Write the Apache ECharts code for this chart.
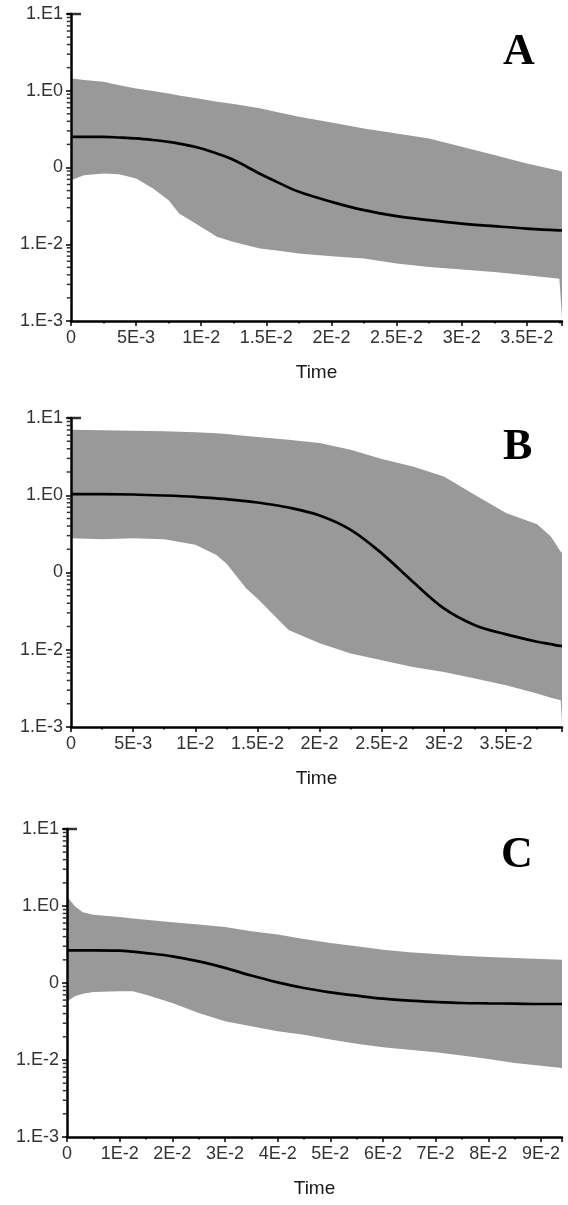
<!DOCTYPE html>
<html>
<head>
<meta charset="utf-8">
<script src="https://cdn.jsdelivr.net/npm/echarts@6/dist/echarts.min.js"></script>
<style>
html,body{margin:0;padding:0;background:#fff;}
#chart{width:568px;height:1205px;}
</style>
</head>
<body>
<div id="chart"></div>
<script>
// ---------- data ----------
const yTickLabels = ['1.E-3', '1.E-2', '0', '1.E0', '1.E1'];

const panelLetters = ['A', 'B', 'C'];
const xAxisTitle = 'Time';

// Panel A
const xTickLabelsA = ['0', '5E-3', '1E-2', '1.5E-2', '2E-2', '2.5E-2', '3E-2', '3.5E-2'];
const timeA   = [0, 0.001, 0.0025, 0.0037, 0.005, 0.0063, 0.0075, 0.0083, 0.01, 0.0112, 0.0125, 0.0145, 0.0158, 0.0175, 0.02, 0.0225, 0.025, 0.0275, 0.03, 0.0325, 0.035, 0.0375, 0.0377];
const upperA  = [1.45, 1.38, 1.31, 1.18, 1.07, 0.99, 0.923, 0.87, 0.778, 0.72, 0.67, 0.59, 0.53, 0.458, 0.386, 0.323, 0.278, 0.239, 0.186, 0.145, 0.113, 0.0905, 0.088];
const medianA = [0.251, 0.251, 0.251, 0.246, 0.239, 0.228, 0.216, 0.205, 0.177, 0.152, 0.125, 0.083, 0.065, 0.0482, 0.0357, 0.0278, 0.0232, 0.0206, 0.0186, 0.0172, 0.016, 0.0152, 0.0152];
const lowerA  = [0.0684, 0.0794, 0.0835, 0.0818, 0.0719, 0.0532, 0.0375, 0.0251, 0.0168, 0.0125, 0.0107, 0.00878, 0.0083, 0.00755, 0.00697, 0.0065, 0.0056, 0.00506, 0.00468, 0.00436, 0.00394, 0.00356, 0.0011];

// Panel B
const xTickLabelsB = ['0', '5E-3', '1E-2', '1.5E-2', '2E-2', '2.5E-2', '3E-2', '3.5E-2'];
const timeB   = [0, 0.0025, 0.005, 0.0075, 0.01, 0.0117, 0.0125, 0.0141, 0.015, 0.0175, 0.02, 0.0225, 0.025, 0.0275, 0.03, 0.0325, 0.035, 0.0375, 0.0386, 0.0394, 0.0395];
const upperB  = [7.06, 6.92, 6.85, 6.72, 6.52, 6.35, 6.2, 5.85, 5.67, 5.24, 4.74, 3.88, 2.94, 2.36, 1.75, 1.01, 0.59, 0.422, 0.292, 0.186, 0.18];
const medianB = [1.033, 1.033, 1.023, 0.993, 0.953, 0.91, 0.889, 0.84, 0.805, 0.693, 0.546, 0.356, 0.177, 0.0761, 0.0343, 0.0208, 0.0158, 0.0127, 0.0118, 0.0112, 0.0112];
const lowerB  = [0.277, 0.269, 0.277, 0.269, 0.228, 0.169, 0.131, 0.0623, 0.0462, 0.018, 0.0121, 0.00894, 0.00733, 0.006, 0.00517, 0.00424, 0.00348, 0.00271, 0.0024, 0.00222, 0.0011];

// Panel C
const xTickLabelsC = ['0', '1E-2', '2E-2', '3E-2', '4E-2', '5E-2', '6E-2', '7E-2', '8E-2', '9E-2'];
const timeC   = [0, 0.0005, 0.0015, 0.003, 0.005, 0.01, 0.0125, 0.015, 0.02, 0.025, 0.03, 0.035, 0.04, 0.045, 0.05, 0.055, 0.06, 0.065, 0.07, 0.075, 0.08, 0.085, 0.09, 0.094];
const upperC  = [1.4, 1.21, 0.991, 0.828, 0.771, 0.72, 0.69, 0.665, 0.614, 0.573, 0.534, 0.469, 0.425, 0.373, 0.33, 0.299, 0.271, 0.25, 0.238, 0.226, 0.218, 0.211, 0.205, 0.201];
const medianC = [0.265, 0.265, 0.265, 0.265, 0.265, 0.263, 0.255, 0.245, 0.222, 0.191, 0.157, 0.125, 0.102, 0.0861, 0.0757, 0.0685, 0.0626, 0.059, 0.0567, 0.055, 0.0544, 0.0539, 0.0534, 0.0534];
const lowerC  = [0.0561, 0.0608, 0.0672, 0.0727, 0.0764, 0.078, 0.078, 0.0705, 0.055, 0.0407, 0.0318, 0.0274, 0.0236, 0.0213, 0.0184, 0.0163, 0.0146, 0.0136, 0.0126, 0.0114, 0.0103, 0.00915, 0.00844, 0.00787];

// ---------- chart ----------
const panels = [
  { time: timeA, upper: upperA, median: medianA, lower: lowerA, xLabels: xTickLabelsA, xInterval: 0.005, xMax: 0.0377,
    grid: { left: 71, top: 14, width: 491, height: 307 }, letter: { left: 498, top: 26 } },
  { time: timeB, upper: upperB, median: medianB, lower: lowerB, xLabels: xTickLabelsB, xInterval: 0.005, xMax: 0.0395,
    grid: { left: 71, top: 418, width: 491, height: 309 }, letter: { left: 498, top: 421 } },
  { time: timeC, upper: upperC, median: medianC, lower: lowerC, xLabels: xTickLabelsC, xInterval: 0.01, xMax: 0.094,
    grid: { left: 67, top: 829, width: 495, height: 308 }, letter: { left: 496, top: 829 } }
];

const labelFont = { fontFamily: 'Liberation Sans, Arial, sans-serif', fontSize: 18, color: '#333333' };

const grids = [], xAxes = [], yAxes = [], series = [], titles = [];

panels.forEach((p, i) => {
  grids.push(Object.assign({ containLabel: false }, p.grid));
  xAxes.push({
    type: 'value', gridIndex: i, min: 0, max: p.xMax, interval: p.xInterval, z: 5,
    name: xAxisTitle, nameLocation: 'middle', nameGap: 42,
    nameTextStyle: { fontFamily: 'Liberation Sans, Arial, sans-serif', fontSize: 19, color: '#1a1a1a' },
    axisLine: { show: true, onZero: false, lineStyle: { color: '#000', width: 2.5 } },
    axisTick: { show: true, inside: false, length: 5, lineStyle: { color: '#000', width: 1.5 } },
    minorTick: { show: true, splitNumber: 2, length: 2.5, lineStyle: { color: '#000', width: 1.5 } },
    splitLine: { show: false },
    axisLabel: Object.assign({
      margin: 8, showMaxLabel: false,
      formatter: (v) => {
        const k = v / p.xInterval;
        const r = Math.round(k);
        if (Math.abs(k - r) > 1e-6) return '';
        return p.xLabels[r] !== undefined ? p.xLabels[r] : '';
      }
    }, labelFont)
  });
  yAxes.push({
    type: 'log', logBase: 10, gridIndex: i, min: 0.001, max: 10, z: 5,
    axisLine: { show: true, lineStyle: { color: '#000', width: 2.5 } },
    axisTick: { show: true, inside: false, length: 5, lineStyle: { color: '#000', width: 1.5 } },
    minorTick: { show: false },
    splitLine: { show: false },
    axisLabel: Object.assign({
      margin: 8,
      formatter: (v) => {
        const idx = Math.round(Math.log10(v)) + 3;
        return yTickLabels[idx] !== undefined ? yTickLabels[idx] : '';
      }
    }, labelFont)
  });

  // shaded band between upper and lower bounds
  series.push({
    type: 'custom', xAxisIndex: i, yAxisIndex: i, z: 1, silent: true,
    data: p.time.map((t, k) => [t, p.upper[k], p.lower[k]]),
    encode: { x: 0, y: [1, 2] },
    renderItem: (params, api) => {
      if (params.dataIndex !== 0) return null;
      const pts = [];
      for (let k = 0; k < p.time.length; k++) pts.push(api.coord([p.time[k], p.upper[k]]));
      for (let k = p.time.length - 1; k >= 0; k--) pts.push(api.coord([p.time[k], p.lower[k]]));
      return { type: 'polygon', shape: { points: pts }, style: { fill: '#999999', stroke: null } };
    }
  });

  // median line
  series.push({
    type: 'line', xAxisIndex: i, yAxisIndex: i, z: 3, silent: true,
    data: p.time.map((t, k) => [t, p.median[k]]),
    showSymbol: false, smooth: 0.35,
    lineStyle: { color: '#000', width: 2.7 }
  });

  // minor (logarithmic) ticks on the y axis
  const minor = [];
  for (let e = -3; e <= 0; e++) for (let m = 2; m <= 9; m++) minor.push([0, m * Math.pow(10, e)]);
  series.push({
    type: 'scatter', xAxisIndex: i, yAxisIndex: i, z: 6, silent: true, clip: false,
    data: minor, symbol: 'rect', symbolSize: [3.5, 1.5], symbolOffset: [-2.5, 0],
    itemStyle: { color: '#000' }
  });
  // cap at top of y axis
  series.push({
    type: 'scatter', xAxisIndex: i, yAxisIndex: i, z: 6, silent: true, clip: false,
    data: [[0, 10]], symbol: 'rect', symbolSize: [14, 2.5], symbolOffset: [3, 0],
    itemStyle: { color: '#000' }
  });

  titles.push({
    text: panelLetters[i], left: p.letter.left, top: p.letter.top,
    textStyle: { fontFamily: 'Liberation Serif, Times New Roman, serif', fontWeight: 'bold', fontSize: 44, color: '#000' }
  });
});

const chart = echarts.init(document.getElementById('chart'), null, { renderer: 'canvas' });
chart.setOption({
  animation: false,
  backgroundColor: '#ffffff',
  title: titles,
  grid: grids,
  xAxis: xAxes,
  yAxis: yAxes,
  series: series
});
</script>
</body>
</html>
